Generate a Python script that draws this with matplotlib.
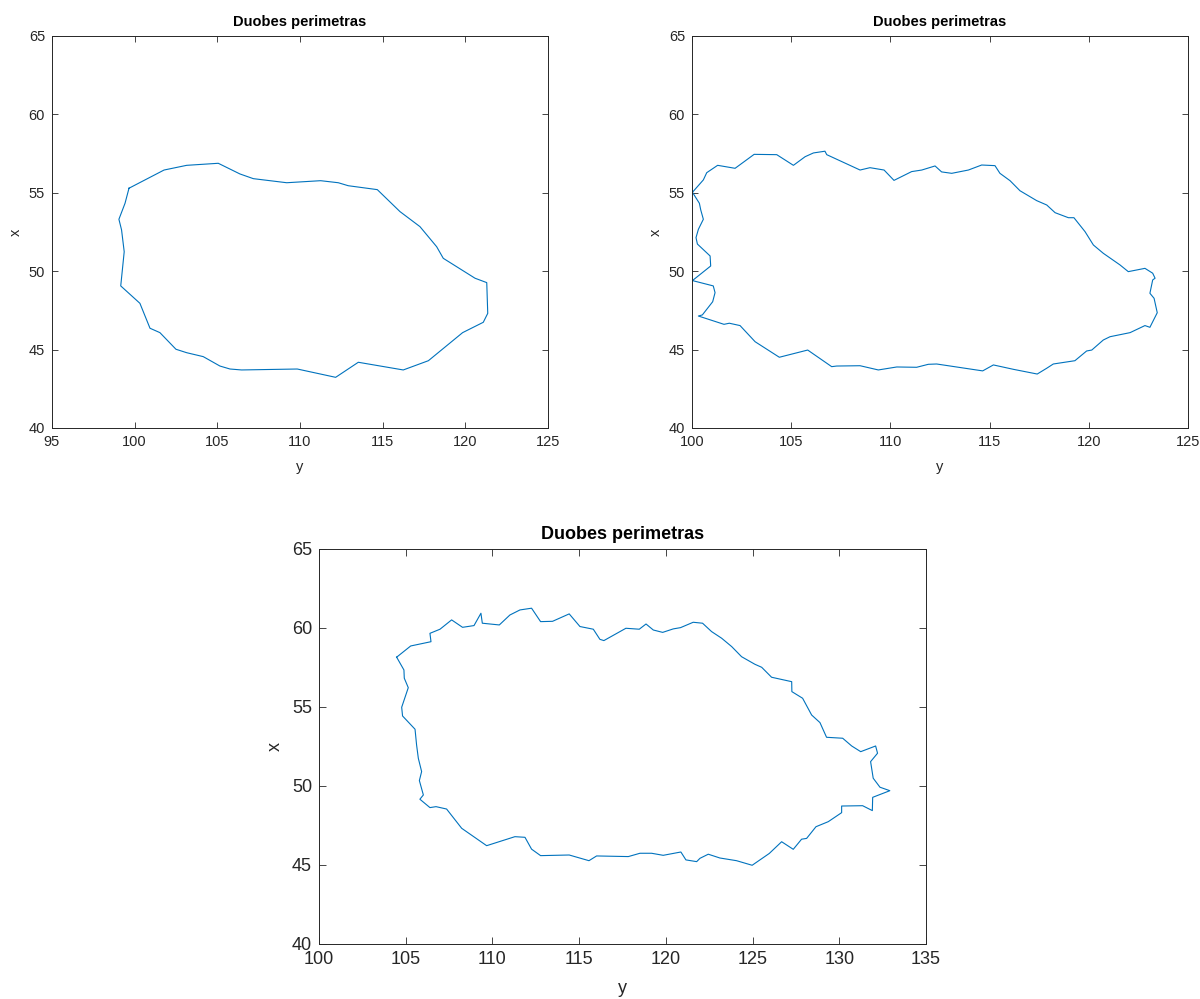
"""Duobes perimetras - three contour outlines"""
import matplotlib
matplotlib.use('Agg')
import matplotlib.pyplot as plt

plt.rcParams['font.family'] = ['Liberation Sans', 'DejaVu Sans']

# Perimeter 1 (horizontal axis "y", vertical axis "x")
p1_y = [99.66, 101.78, 103.15, 105.06, 106.37, 107.18, 109.20, 111.25, 112.32, 112.92,
        114.68, 116.05, 117.26, 118.27, 118.67, 120.59, 121.30, 121.36, 121.09, 119.84,
        117.77, 116.25, 113.53, 112.16, 109.84, 106.47, 105.77, 105.16, 104.15, 103.15,
        102.50, 101.53, 100.93, 100.32, 99.16, 99.37, 99.21, 99.05, 99.42, 99.66]
p1_x = [55.29, 56.45, 56.75, 56.88, 56.20, 55.90, 55.64, 55.77, 55.64, 55.45,
        55.20, 53.80, 52.84, 51.56, 50.82, 49.55, 49.27, 47.31, 46.74, 46.08,
        44.29, 43.70, 44.19, 43.23, 43.76, 43.70, 43.76, 43.95, 44.55, 44.80,
        45.02, 46.08, 46.36, 47.95, 49.06, 51.24, 52.63, 53.31, 54.33, 55.29]

# Perimeter 2
p2_y = [100.02, 100.57, 100.74, 101.29, 102.17, 103.13, 104.27, 105.11, 105.70, 106.12,
        106.70, 106.79, 108.47, 108.97, 109.68, 110.18, 111.07, 111.58, 112.25, 112.58,
        113.09, 113.93, 114.60, 115.27, 115.52, 116.03, 116.53, 117.37, 117.88, 118.30,
        118.97, 119.25, 119.81, 120.23, 120.73, 121.57, 121.99, 122.83, 123.22, 123.34,
        123.22, 123.08, 123.29, 123.45, 123.08, 122.83, 122.08, 121.07, 120.73, 120.15,
        119.89, 119.30, 118.21, 117.88, 117.40, 116.20, 115.19, 114.65, 112.33, 111.91,
        111.32, 110.32, 109.39, 108.47, 107.29, 107.04, 105.83, 104.40, 103.18, 102.42,
        101.88, 101.61, 100.32, 100.52, 101.04, 101.16, 101.07, 100.02, 100.94, 100.91,
        100.27, 100.20, 100.32, 100.57, 100.44, 100.37, 100.02]
p2_x = [55.03, 55.82, 56.28, 56.75, 56.56, 57.45, 57.43, 56.75, 57.30, 57.54,
        57.65, 57.43, 56.45, 56.60, 56.45, 55.79, 56.35, 56.45, 56.71, 56.33,
        56.24, 56.45, 56.77, 56.73, 56.24, 55.77, 55.13, 54.50, 54.22, 53.73,
        53.41, 53.41, 52.52, 51.67, 51.14, 50.40, 49.97, 50.18, 49.87, 49.55,
        49.44, 48.59, 48.27, 47.35, 46.42, 46.53, 46.08, 45.82, 45.61, 44.97,
        44.91, 44.29, 44.08, 43.81, 43.44, 43.74, 44.02, 43.64, 44.08, 44.06,
        43.87, 43.89, 43.70, 43.97, 43.95, 43.91, 44.97, 44.51, 45.50, 46.53,
        46.68, 46.61, 47.14, 47.21, 48.05, 48.63, 49.06, 49.40, 50.33, 50.97,
        51.73, 52.14, 52.67, 53.31, 53.90, 54.33, 55.03]

# Perimeter 3
p3_y = [104.48, 105.29, 106.46, 106.40, 106.98, 107.65, 108.28, 108.94, 109.34, 109.42,
        110.40, 111.01, 111.59, 112.26, 112.78, 113.47, 114.43, 115.05, 115.82, 116.20,
        116.43, 117.70, 118.47, 118.86, 119.28, 119.82, 120.43, 120.85, 121.58, 122.12,
        122.64, 123.22, 123.80, 124.37, 125.14, 125.53, 126.10, 127.26, 127.27, 127.89,
        128.41, 128.89, 129.27, 130.20, 130.72, 131.24, 132.10, 132.21, 131.81, 131.96,
        132.35, 132.92, 131.93, 131.91, 131.35, 130.14, 130.14, 129.37, 128.66, 128.12,
        127.83, 127.35, 126.68, 125.97, 124.98, 124.08, 123.12, 122.45, 121.97, 121.78,
        121.16, 120.87, 119.85, 119.18, 118.51, 117.84, 116.01, 115.57, 114.43, 112.78,
        112.26, 111.88, 111.30, 109.67, 108.23, 107.36, 106.75, 106.40, 105.82, 106.02,
        105.79, 105.92, 105.73, 105.63, 105.54, 104.82, 104.77, 105.15, 104.92, 104.90,
        104.48]
p3_x = [58.15, 58.86, 59.13, 59.66, 59.92, 60.51, 60.04, 60.15, 60.93, 60.30,
        60.19, 60.82, 61.14, 61.25, 60.40, 60.42, 60.89, 60.09, 59.92, 59.28,
        59.20, 59.98, 59.92, 60.25, 59.87, 59.72, 59.94, 60.02, 60.36, 60.30,
        59.77, 59.35, 58.82, 58.18, 57.70, 57.51, 56.88, 56.60, 55.97, 55.55,
        54.49, 54.01, 53.08, 53.02, 52.53, 52.17, 52.53, 52.07, 51.54, 50.49,
        49.92, 49.70, 49.28, 48.44, 48.75, 48.73, 48.31, 47.74, 47.42, 46.68,
        46.63, 45.99, 46.47, 45.73, 44.98, 45.27, 45.44, 45.68, 45.42, 45.21,
        45.32, 45.82, 45.61, 45.74, 45.74, 45.53, 45.57, 45.27, 45.63, 45.59,
        46.00, 46.75, 46.79, 46.22, 47.32, 48.54, 48.69, 48.63, 49.16, 49.43,
        50.34, 50.91, 51.75, 52.59, 53.59, 54.43, 54.98, 56.22, 56.82, 57.34,
        58.15]

title_text = 'Duobes perimetras'
line_color = '#0072BD'
ink = '#262626'

fig = plt.figure(figsize=(12, 9.99), dpi=100)
fig.patch.set_facecolor('white')


def style_axes(ax, xlim, xticks, fs, tfs, tick_len, ypad, xpad):
    ax.set_xlim(*xlim)
    ax.set_ylim(40, 65)
    ax.set_xticks(xticks)
    ax.set_yticks([40, 45, 50, 55, 60, 65])
    ax.tick_params(direction='in', length=tick_len, width=0.6, colors=ink,
                   labelsize=fs, top=True, right=True, pad=5)
    for s in ax.spines.values():
        s.set_color(ink)
        s.set_linewidth(0.7)
    ax.set_xlabel('y', fontsize=fs, color=ink, labelpad=xpad)
    ax.set_ylabel('x', fontsize=fs, color=ink, labelpad=ypad)
    ax.set_title(title_text, fontsize=tfs, fontweight='bold', color='black', pad=7)


# Top-left
ax1 = fig.add_axes([0.0433, 0.5716, 0.4133, 0.3924])
ax1.plot(p1_y, p1_x, color=line_color, linewidth=0.8)
style_axes(ax1, (95, 125), [95, 100, 105, 110, 115, 120, 125], 10.5, 10.5, 4, 4, 8)

# Top-right
ax2 = fig.add_axes([0.5767, 0.5716, 0.4133, 0.3924])
ax2.plot(p2_y, p2_x, color=line_color, linewidth=0.8)
style_axes(ax2, (100, 125), [100, 105, 110, 115, 120, 125], 10.5, 10.5, 4, 4, 8)

# Bottom
ax3 = fig.add_axes([0.2658, 0.0551, 0.5058, 0.3954])
ax3.plot(p3_y, p3_x, color=line_color, linewidth=0.8)
style_axes(ax3, (100, 135), [100, 105, 110, 115, 120, 125, 130, 135], 13, 13, 5, 6, 9)

fig.savefig('out.png', dpi=100, facecolor='white')
plt.close(fig)
